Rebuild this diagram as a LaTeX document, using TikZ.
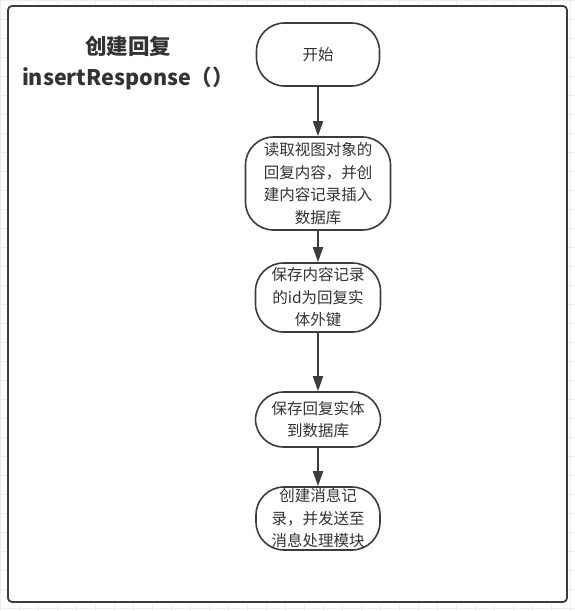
\documentclass[tikz,border=0pt]{standalone}
\usepackage{fontspec}
\usepackage{tikz}
\usetikzlibrary{arrows.meta}
\newfontfamily\cjk{Noto Sans CJK SC}
\definecolor{linegray}{HTML}{3C3C3C}
\definecolor{textgray}{HTML}{333333}
\definecolor{gridgray}{HTML}{EDEDED}
\tikzstyle{stepbox}=[draw=linegray,line width=1.6pt,fill=white,rounded corners=28pt,
  inner sep=0pt,align=center,text=textgray,font=\cjk\fontsize{15.5pt}{22.5pt}\selectfont]
\tikzstyle{flow} = [draw=linegray,line width=1.6pt,-{Triangle[width=10pt,length=15pt]}]

\begin{document}
\begin{tikzpicture}[x=1pt,y=-1pt]
        \useasboundingbox (0,0) rectangle (575,611);
        \draw[gridgray,line width=0.6pt,step=19pt] (0,0) grid (575,611);
        \draw[linegray,line width=1.8pt,fill=white,rounded corners=4pt] (8,6) rectangle (567,602);
        \node[align=center,text=textgray,font=\cjk\bfseries\fontsize{21.5pt}{31pt}\selectfont] (title) at (128,63)
          {创建回复\\insertResponse（）};
        \node[stepbox,minimum width=123pt,minimum height=63pt] (start) at (318,54.5) {开始};
        \node[stepbox,minimum width=145pt,minimum height=93pt] (read) at (318,183.5)
          {读取视图对象的\\回复内容，并创\\建内容记录插入\\数据库};
        \node[stepbox,minimum width=125pt,minimum height=69pt] (key) at (318,297.5)
          {保存内容记录\\的id为回复实\\体外键};
        \node[stepbox,minimum width=125pt,minimum height=55pt] (save) at (318,419.5)
          {保存回复实体\\到数据库};
        \node[stepbox,minimum width=124pt,minimum height=63pt] (msg) at (318,518.5)
          {创建消息记\\录，并发送至\\消息处理模块};
        \draw[flow] (start) to (read);
        \draw[flow] (read) to (key);
        \draw[flow] (key) to (save);
        \draw[flow] (save) to (msg);
      \end{tikzpicture}
\end{document}
